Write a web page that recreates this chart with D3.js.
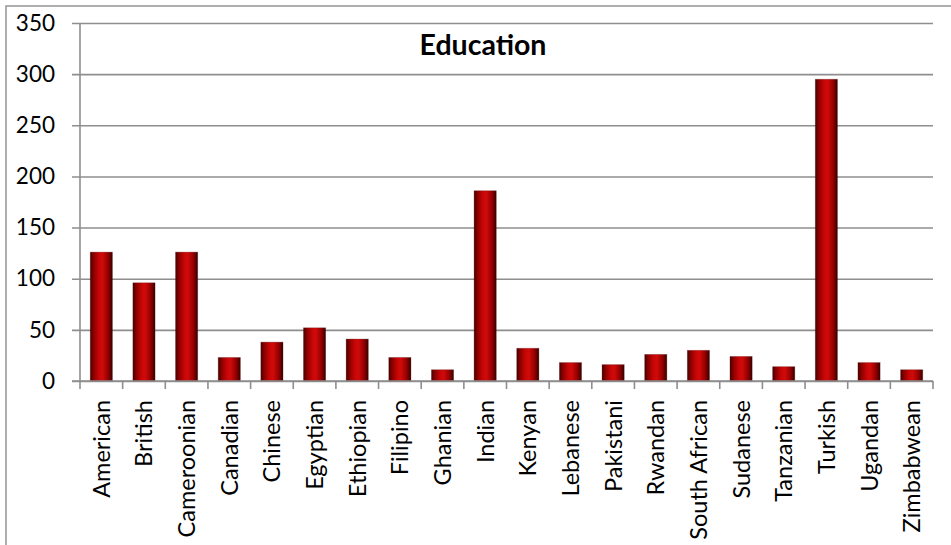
<!DOCTYPE html>
<html>
<head>
<meta charset="utf-8">
<script src="https://cdn.jsdelivr.net/npm/d3@7"></script>
<style>
  html, body { margin: 0; padding: 0; background: #fff; }
  svg { display: block; }
</style>
</head>
<body>
<svg id="chart" width="951" height="545"></svg>
<script>
// Education counts by nationality
const categories = ["American", "British", "Cameroonian", "Canadian", "Chinese", "Egyptian",
  "Ethiopian", "Filipino", "Ghanian", "Indian", "Kenyan", "Lebanese", "Pakistani", "Rwandan",
  "South African", "Sudanese", "Tanzanian", "Turkish", "Ugandan", "Zimbabwean"];
const values = [126, 96, 126, 23, 38, 52, 41, 23, 11, 186, 32, 18, 16, 26, 30, 24, 14, 295, 18, 11];
const yTicks = [0, 50, 100, 150, 200, 250, 300, 350];
const chartTitle = "Education";

const svg = d3.select("#chart");
const W = 951, H = 545;
const plot = { left: 80, right: 933, top: 23, bottom: 381 };
const font = "Lato, 'Open Sans', sans-serif";
const gridColor = "#8e8e8e";

// Outer chart border (runs off the right and bottom edges)
svg.append("rect")
  .attr("x", 6).attr("y", 6).attr("width", W + 10).attr("height", H + 10)
  .attr("fill", "none").attr("stroke", "#9a9a9a").attr("stroke-width", 1.6);

// Bar gradient: cylinder-like shading
const defs = svg.append("defs");
const grad = defs.append("linearGradient").attr("id", "barGrad")
  .attr("x1", "0%").attr("x2", "100%").attr("y1", "0%").attr("y2", "0%");
[[0, "#460000"], [0.15, "#8a0000"], [0.4, "#c80606"], [0.55, "#d00a0a"], [0.8, "#960000"], [1, "#360000"]]
  .forEach(([o, c]) => grad.append("stop").attr("offset", o).attr("stop-color", c));

const y = d3.scaleLinear().domain([0, 350]).range([plot.bottom, plot.top]);
const slots = d3.scaleBand().domain(categories).range([plot.left, plot.right]).padding(0);
const x = d3.scaleBand().domain(categories).range([plot.left, plot.right])
  .paddingInner(0.48).paddingOuter(0.24);

// Gridlines and y-axis ticks
const yAxis = d3.axisLeft(y).tickValues(yTicks).tickSize(-(plot.right - plot.left)).tickSizeOuter(0).tickPadding(25);
const gy = svg.append("g").attr("transform", `translate(${plot.left},0)`).call(yAxis);
gy.select(".domain").remove();
gy.selectAll(".tick line").attr("stroke", gridColor).attr("stroke-width", 1.6).attr("x1", -8);
gy.selectAll(".tick text")
  .attr("font-family", font).attr("font-size", 22.5).attr("fill", "#000");

// Bars
svg.append("g").selectAll("rect").data(values).join("rect")
  .attr("x", (d, i) => x(categories[i]))
  .attr("y", d => y(d))
  .attr("width", x.bandwidth())
  .attr("height", d => y(0) - y(d))
  .attr("fill", "url(#barGrad)")
  .attr("stroke", "#5a1010").attr("stroke-opacity", 0.35).attr("stroke-width", 0.8);

// Y axis line
svg.append("line")
  .attr("x1", plot.left).attr("x2", plot.left)
  .attr("y1", plot.top).attr("y2", plot.bottom)
  .attr("stroke", gridColor).attr("stroke-width", 1.6);

// Category axis with ticks at slot boundaries
const bounds = categories.map(c => slots(c)).concat([plot.right]);
svg.append("line")
  .attr("x1", plot.left - 8).attr("x2", plot.right)
  .attr("y1", y(0)).attr("y2", y(0))
  .attr("stroke", gridColor).attr("stroke-width", 1.6);
svg.append("g").selectAll("line").data(bounds).join("line")
  .attr("x1", d => d).attr("x2", d => d)
  .attr("y1", y(0)).attr("y2", y(0) + 8)
  .attr("stroke", gridColor).attr("stroke-width", 1.6);

// Rotated category labels
svg.append("g").selectAll("text").data(categories).join("text")
  .attr("transform", d => `translate(${slots(d) + slots.bandwidth() / 2 + 8.5},${y(0) + 19}) rotate(-90)`)
  .attr("text-anchor", "end")
  .attr("font-family", font).attr("font-size", 23.5).attr("fill", "#000")
  .text(d => d);

// Title
svg.append("text")
  .attr("x", 483).attr("y", 55)
  .attr("text-anchor", "middle")
  .attr("font-family", font).attr("font-weight", "bold").attr("font-size", 28.5).attr("fill", "#000")
  .text(chartTitle);
</script>
</body>
</html>
